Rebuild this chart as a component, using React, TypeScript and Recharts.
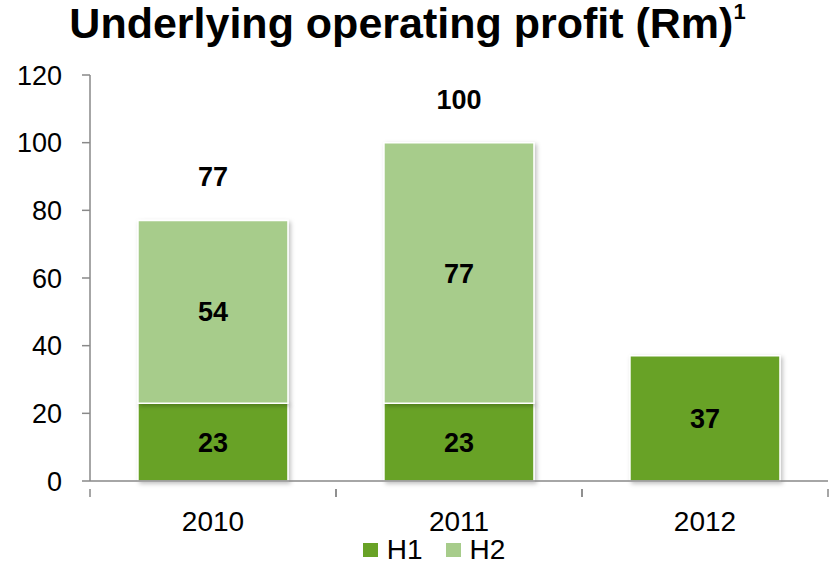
import React from 'react';
import {
  ComposedChart,
  Bar,
  XAxis,
  YAxis,
  Legend,
  LabelList,
} from 'recharts';

const years = ['2010', '2011', '2012'];
const h1Values = [23, 23, 37];
const h2Values: (number | null)[] = [54, 77, null];
const totals: (number | null)[] = [77, 100, null];
const yTicks = [0, 20, 40, 60, 80, 100, 120];

const data = years.map((year, i) => ({
  year,
  H1: h1Values[i],
  H2: h2Values[i],
  total: totals[i],
}));

const FONT = '"Liberation Sans", Arial, sans-serif';
const DARK_GREEN = '#68a226';
const LIGHT_GREEN = '#a7cc8b';
const AXIS_GREY = '#898989';

// x ticks sit on the category boundaries, labels in the middle
const CategoryTick = (props: any) => {
  const { x, y, payload } = props;
  const half = payload.offset || 0;
  return (
    <g>
      <line x1={x - half} y1={y} x2={x - half} y2={y + 8} stroke={AXIS_GREY} strokeWidth={1.5} />
      <line x1={x + half} y1={y} x2={x + half} y2={y + 8} stroke={AXIS_GREY} strokeWidth={1.5} />
      <text x={x} y={y + 42} textAnchor="middle" fontSize={28} fontFamily={FONT} fill="#000">
        {payload.value}
      </text>
    </g>
  );
};

const TotalLabel = (props: any) => {
  const { x, y, width, index } = props;
  const total = totals[index];
  if (total == null) return null;
  return (
    <text
      x={x + width / 2}
      y={y - 43}
      textAnchor="middle"
      dominantBaseline="central"
      fontSize={27}
      fontWeight="bold"
      fontFamily={FONT}
      fill="#000"
    >
      {total}
    </text>
  );
};

const LegendContent = () => (
  <div
    style={{
      display: 'flex',
      justifyContent: 'center',
      alignItems: 'center',
      gap: 23,
      fontFamily: FONT,
      fontSize: 28,
      lineHeight: '32px',
      color: '#000',
      paddingLeft: 40,
      marginTop: 3,
    }}
  >
    {[
      { name: 'H1', color: DARK_GREEN },
      { name: 'H2', color: LIGHT_GREEN },
    ].map((item) => (
      <div key={item.name} style={{ display: 'flex', alignItems: 'center', gap: 9 }}>
        <span style={{ width: 15, height: 14, background: item.color, display: 'inline-block' }} />
        <span>{item.name}</span>
      </div>
    ))}
  </div>
);

const labelStyle = { fontSize: 27, fontWeight: 'bold', fontFamily: FONT, fill: '#000' };

export default function App() {
  return (
    <div style={{ position: 'absolute', left: 0, top: 0, width: 832, height: 567, background: '#fff' }}>
      <div
        style={{
          position: 'absolute',
          left: 0,
          top: 0,
          width: 815,
          textAlign: 'center',
          fontFamily: FONT,
          fontWeight: 'bold',
          fontSize: 43,
          lineHeight: '47px',
          color: '#000',
          zIndex: 1,
        }}
      >
        Underlying operating profit (Rm)
        <sup style={{ fontSize: 22, lineHeight: 0, position: 'relative', top: -4 }}>1</sup>
      </div>
      <ComposedChart
        width={832}
        height={567}
        data={data}
        margin={{ top: 75, right: 4, left: 0, bottom: 0 }}
        barCategoryGap="19.5%"
        style={{ position: 'absolute', left: 0, top: 0 }}
      >
        <defs>
          <filter id="barShadow" x="-10%" y="-10%" width="130%" height="130%">
            <feDropShadow dx="2" dy="2" stdDeviation="2" floodColor="#000" floodOpacity="0.25" />
          </filter>
        </defs>
        <XAxis
          dataKey="year"
          tickLine={false}
          axisLine={{ stroke: AXIS_GREY, strokeWidth: 1.5 }}
          tick={<CategoryTick />}
          height={50}
          interval={0}
        />
        <YAxis
          domain={[0, 120]}
          ticks={yTicks}
          width={90}
          tickSize={8}
          tickMargin={20}
          axisLine={{ stroke: AXIS_GREY, strokeWidth: 1.5 }}
          tickLine={{ stroke: AXIS_GREY, strokeWidth: 1.5 }}
          tick={{ fontSize: 27, fontFamily: FONT, fill: '#000' }}
        />
        <Legend verticalAlign="bottom" height={36} content={<LegendContent />} />
        <Bar
          dataKey="H1"
          stackId="a"
          fill={DARK_GREEN}
          stroke="#fff"
          strokeWidth={1.5}
          filter="url(#barShadow)"
          isAnimationActive={false}
        >
          <LabelList dataKey="H1" position="center" style={labelStyle} />
        </Bar>
        <Bar
          dataKey="H2"
          stackId="a"
          fill={LIGHT_GREEN}
          stroke="#fff"
          strokeWidth={1.5}
          filter="url(#barShadow)"
          isAnimationActive={false}
        >
          <LabelList dataKey="H2" position="center" style={labelStyle} />
          <LabelList dataKey="H2" content={<TotalLabel />} />
        </Bar>
      </ComposedChart>
    </div>
  );
}
